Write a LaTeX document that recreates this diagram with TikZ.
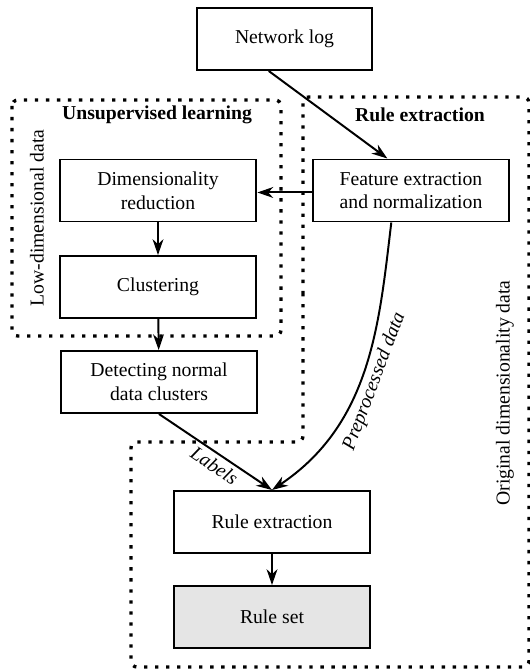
\documentclass[tikz,border=0pt]{standalone}
\usepackage{fontspec}
\setmainfont{Liberation Serif}
\usetikzlibrary{arrows.meta, calc}

\begin{document}
\begin{tikzpicture}[x=0.508pt, y=-0.508pt,
    blk/.style={draw, line width=1pt, minimum width=100pt, minimum height=31.5pt, align=center},
    flow/.style={line width=1pt, -{Stealth[length=8pt, width=5.5pt, inset=2.5pt]}},
    region/.style={line width=1.7pt, dash pattern=on 1.7pt off 3.9pt, rounded corners=3pt},
    lbl/.style={font=\itshape, inner sep=2pt}]
    \useasboundingbox (0,0) rectangle (529,669);

    % Dotted groups
    \draw[region] (12,100) rectangle (281,336);
    \draw[region] (303,300) -- (303,97) -- (529,97) -- (529,667) -- (131,667) -- (131,442) -- (303,442) -- cycle;

    % Group titles
    \node[font=\bfseries] (ulab) at (157,115) {Unsupervised learning};
    \node[font=\bfseries] (rlab) at (420,115) {Rule extraction};
    \node[rotate=90] (lowlab) at (37,218) {Low-dimensional data};
    \node[rotate=90] (origlab) at (505,393) {Original dimensionality data};

    % Boxes
    \node[blk, minimum width=89pt] (net) at (284.5,39) {Network log};
    \node[blk] (dim) at (158,190.5) {Dimensionality\\reduction};
    \node[blk] (clu) at (158,287) {Clustering};
    \node[blk] (feat) at (411,190.5) {Feature extraction\\and normalization};
    \node[blk] (det) at (159,382) {Detecting normal\\data clusters};
    \node[blk] (rulex) at (272,522) {Rule extraction};
    \node[blk, fill=gray!20] (rset) at (272,617) {Rule set};

    % Connectors
    \draw[flow] ([xshift=-8pt]net.south) -- ([xshift=-12pt]feat.north);
    \draw[flow] ([yshift=-1pt]feat.west) -- ([yshift=-1pt]dim.east);
    \draw[flow] (dim) -- (clu);
    \draw[flow] (clu) -- (det);
    \draw[flow] (det.south) -- node[lbl, sloped, below, pos=0.55] {Labels} (rulex.north);
    \draw[flow] ([xshift=-10pt]feat.south) .. controls +(-12,99) and +(100,-67) ..
        node[lbl, sloped, below, pos=0.53] {Preprocessed data} (rulex.north);
    \draw[flow] (rulex) -- (rset);
\end{tikzpicture}
\end{document}
